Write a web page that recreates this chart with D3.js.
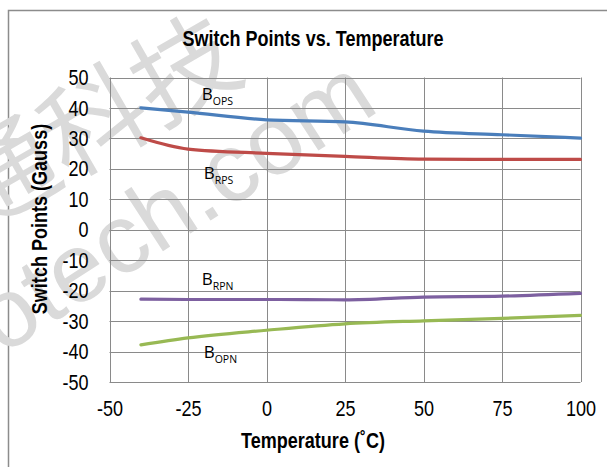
<!DOCTYPE html>
<html>
<head>
<meta charset="utf-8">
<script src="https://cdn.jsdelivr.net/npm/d3@7"></script>
<style>
  body { margin: 0; background: #fff; }
  svg { display: block; }
  text { font-family: "Liberation Sans", Arial, sans-serif; }
</style>
</head>
<body>
<svg id="chart" width="607" height="467"></svg>
<script>
// data
const temps = [-40, -25, 0, 25, 50, 75, 100]
const bops = [40.0, 38.6, 36.1, 35.4, 32.4, 31.2, 30.1]
const brps = [30.2, 26.5, 25.1, 24.1, 23.2, 23.1, 23.1]
const brpn = [-22.8, -22.9, -22.9, -23.0, -22.1, -21.8, -20.9]
const bopn = [-37.8, -35.5, -33.0, -30.9, -29.9, -29.1, -28.1]
const xTicks = [-50, -25, 0, 25, 50, 75, 100]
const yTicks = [-50, -40, -30, -20, -10, 0, 10, 20, 30, 40, 50]

const m = { left: 109.5, right: 580.5, top: 77.5, bottom: 382 }
const NARROW = 0.82 // no Arial Narrow here, so squeeze Liberation Sans

let svg = d3.select('#chart')

// squeeze a text horizontally around its own x/y anchor
function narrow(sel) {
    sel.each(function() {
        let t = d3.select(this)
        let xx = +t.attr('x') || 0, yy = +t.attr('y') || 0
        t.attr('x', 0).attr('y', 0)
            .attr('transform', `translate(${xx},${yy}) scale(${NARROW},1)`)
    })
}

// outer frame
svg.append('rect')
    .attr('x', 8.5).attr('y', 10.5)
    .attr('width', 620).attr('height', 480)
    .attr('fill', 'none')
    .attr('stroke', '#8c8c8c')
    .attr('stroke-width', 1.5)

// watermark (faint, behind everything)
let wm = svg.append('g').attr('fill', '#dadada')
wm.append('text')
    .attr('transform', 'translate(-22,232) rotate(-30)')
    .style('font-family', '"Noto Sans CJK SC", sans-serif')
    .style('font-size', '104px')
    .text('通科技')
wm.append('text')
    .attr('transform', 'translate(2,356) rotate(-33)')
    .style('font-size', '98px')
    .text('otech.com')

let x = d3.scaleLinear().domain([-50, 100]).range([m.left, m.right])
let y = d3.scaleLinear().domain([-50, 50]).range([m.bottom, m.top])

// grid
let grid = svg.append('g').attr('stroke', '#8a8a8a').attr('stroke-width', 1)
grid.selectAll('line.h')
    .data(yTicks).enter()
    .append('line')
    .attr('x1', m.left).attr('x2', m.right)
    .attr('y1', (d) => { return Math.round(y(d)) + 0.5 })
    .attr('y2', (d) => { return Math.round(y(d)) + 0.5 })
grid.selectAll('line.v')
    .data(xTicks).enter()
    .append('line')
    .attr('y1', m.top).attr('y2', m.bottom)
    .attr('x1', (d) => { return Math.round(x(d)) + 0.5 })
    .attr('x2', (d) => { return Math.round(x(d)) + 0.5 })

// axes (labels only, lines come from the grid); plain hyphen minus like Excel
let fmt = (d) => { return String(d) }
let xAxis = svg.append('g')
    .attr('transform', `translate(0,${m.bottom})`)
    .call(d3.axisBottom(x).tickValues(xTicks).tickFormat(fmt).tickSize(0).tickPadding(18))
let yAxis = svg.append('g')
    .attr('transform', `translate(${m.left},0)`)
    .call(d3.axisLeft(y).tickValues(yTicks).tickFormat(fmt).tickSize(0).tickPadding(21))
;[xAxis, yAxis].forEach((a) => {
    a.select('.domain').remove()
    a.selectAll('text')
        .style('font-family', '"Liberation Sans", Arial, sans-serif')
        .style('font-size', '22px')
        .attr('fill', '#000')
        .call(narrow)
})

// series
const series = [
    { vals: bops, color: '#4a7ebb' },
    { vals: brps, color: '#be4b48' },
    { vals: brpn, color: '#7d60a0' },
    { vals: bopn, color: '#98b954' }
]
let line = d3.line()
    .x((d) => { return x(d[0]) })
    .y((d) => { return y(d[1]) })
    .curve(d3.curveMonotoneX)

svg.append('g').selectAll('path')
    .data(series).enter()
    .append('path')
    .attr('d', (s) => { return line(temps.map((t, i) => [t, s.vals[i]])) })
    .attr('fill', 'none')
    .attr('stroke', (s) => { return s.color })
    .attr('stroke-width', 3.2)
    .attr('stroke-linecap', 'round')

// B labels, anchored in data units
const labels = [
    { sub: 'OPS', t: -20.6, g: 42.5 },
    { sub: 'RPS', t: -20.0, g: 16.8 },
    { sub: 'RPN', t: -20.6, g: -18.3 },
    { sub: 'OPN', t: -20.0, g: -42.0 }
]
let lab = svg.append('g').selectAll('text')
    .data(labels).enter()
    .append('text')
    .attr('x', (d) => { return x(d.t) })
    .attr('y', (d) => { return y(d.g) })
    .style('font-family', '"Open Sans", sans-serif')
    .style('font-size', '17px')
lab.append('tspan').text('B')
lab.append('tspan')
    .attr('dy', 5)
    .style('font-size', '10.5px')
    .text((d) => { return d.sub })

// titles
svg.append('text')
    .attr('x', 313).attr('y', 46)
    .attr('text-anchor', 'middle')
    .style('font-size', '22px').style('font-weight', 'bold')
    .text('Switch Points vs. Temperature')
    .call(narrow)

svg.append('text')
    .attr('x', 313).attr('y', 448)
    .attr('text-anchor', 'middle')
    .style('font-size', '22px').style('font-weight', 'bold')
    .text('Temperature (˚C)')
    .call(narrow)

svg.append('text')
    .attr('transform', 'translate(47,219) rotate(-90) scale(0.82,1)')
    .attr('text-anchor', 'middle')
    .style('font-size', '22px').style('font-weight', 'bold')
    .text('Switch Points (Gauss)')
</script>
</body>
</html>
